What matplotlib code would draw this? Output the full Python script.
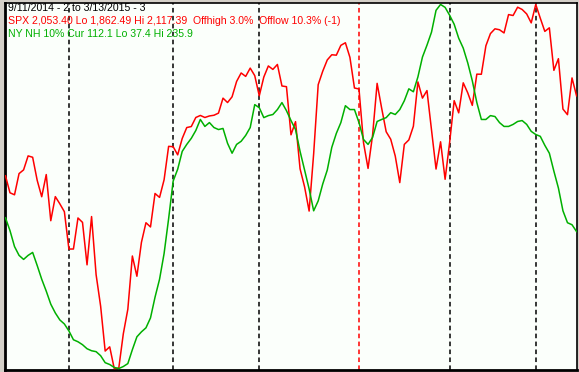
import pandas as pd
import matplotlib.pyplot as plt

# trading days 9/11/2014 .. 3/13/2015
feriados = ['2014-11-27', '2014-12-25', '2015-01-01', '2015-01-19', '2015-02-16']
fechas = pd.bdate_range('2014-09-11', '2015-03-13')
fechas = fechas[~fechas.isin(pd.to_datetime(feriados))]

# SPX closes
spx = [1997.45, 1985.54, 1984.13, 1998.98, 2001.57, 2011.36, 2010.40, 1994.29, 1982.77, 1998.30,
       1965.99, 1982.85, 1977.80, 1972.29,
       1946.16, 1946.17, 1967.90, 1964.82, 1935.10, 1968.89, 1928.21, 1906.13, 1874.74, 1877.70,
       1862.49, 1862.76, 1886.76, 1904.01, 1941.28, 1927.11, 1950.82, 1964.58, 1961.63, 1985.05,
       1982.30, 1994.65, 2018.05,
       2017.81, 2012.10, 2023.57, 2031.21, 2031.92, 2038.26, 2039.68, 2038.25, 2039.33, 2039.82,
       2041.32, 2051.80, 2048.72, 2052.75, 2063.50, 2069.41, 2067.03, 2072.83, 2067.56,
       2053.44, 2066.55, 2074.33, 2071.92, 2075.37, 2060.31, 2059.82, 2026.14, 2035.33, 2002.33,
       1989.63, 1972.74, 2012.89, 2061.23, 2070.65, 2078.54, 2082.17, 2081.88, 2088.77, 2090.57,
       2080.35, 2058.90,
       2058.20, 2020.58, 2002.61, 2025.90, 2062.14, 2044.81, 2028.26, 2023.03, 2011.27, 1992.67,
       2019.42, 2022.55, 2032.12, 2063.15, 2051.82, 2057.09, 2029.55, 2002.16, 2021.25, 1994.99,
       2020.85, 2050.03, 2041.51, 2062.52, 2055.47, 2046.74, 2068.59, 2068.53, 2088.48, 2096.99,
       2100.34, 2099.68, 2097.45, 2110.30, 2109.66, 2115.48, 2113.86, 2110.74, 2104.50,
       2117.39, 2107.78, 2098.53, 2101.04, 2071.26, 2079.43, 2044.16, 2040.24, 2065.95, 2053.40]

# NY new highs, 10% average
nyhn = [119.6, 112.6, 103.9, 99.1, 96.9, 99.1, 100.7, 93.6, 86.1, 79.6,
        72.5, 67.7, 63.9, 61.7,
        57.9, 53.1, 52.0, 50.4, 48.2, 47.1, 46.6, 44.4, 40.6, 39.6,
        38.0, 37.4, 38.5, 40.1, 47.7, 54.7, 57.4, 59.6, 65.0, 76.3,
        86.1, 100.1, 119.1,
        139.6, 146.1, 155.8, 159.6, 162.9, 167.2, 173.2, 169.4, 171.5, 168.8,
        167.7, 168.3, 160.2, 154.8, 159.6, 161.3, 164.5, 168.8, 181.3,
        179.6, 174.2, 175.3, 175.9, 178.6, 182.4, 178.0, 172.6, 167.7, 155.8,
        145.6, 135.3, 123.4, 128.8, 138.0, 145.6, 158.0, 165.6, 171.5, 180.7,
        178.6, 178.6,
        171.5, 162.3, 159.6, 163.4, 172.1, 173.2, 174.2, 176.9, 175.9, 178.6,
        183.4, 189.9, 188.3, 196.4, 207.2, 213.7, 220.8, 232.7, 235.9, 234.3,
        230.0, 225.1, 217.5, 212.1, 204.0, 194.3, 182.4, 173.2, 173.2, 175.3,
        174.8, 171.5, 169.4, 169.4, 170.5, 172.1, 172.6, 170.5, 166.7,
        165.0, 164.0, 159.1, 154.8, 145.0, 135.8, 123.4, 116.9, 115.8, 112.1]

titulo = "9/11/2014 - 2 to 3/13/2015 - 3"
linea_spx = "SPX 2,053.40 Lo 1,862.49 Hi 2,117.39  Offhigh 3.0%  Offlow 10.3% (-1)"
linea_nh = "NY NH 10% Cur 112.1 Lo 37.4 Hi 235.9"

ROJO = '#ff0000'
VERDE = '#00b000'

x = list(range(len(fechas)))
meses = pd.Series(fechas.month)
inicio_mes = [i for i in x if i > 0 and meses[i] != meses[i - 1]]

fig = plt.figure(figsize=(5.79, 3.72), dpi=100, facecolor='#d4d0c8')
ax = fig.add_axes([5 / 579, 2 / 372, 572 / 579, 367 / 372])
ax.set_facecolor('#fbfffb')
ax2 = ax.twinx()

for i in inicio_mes:
    color = ROJO if fechas[i].year != fechas[i - 1].year else 'black'
    ax.axvline(i, color=color, lw=1.1, linestyle=(0, (3, 2.2)), zorder=1)

ax.plot(x, spx, color=ROJO, lw=1.1, zorder=3)
ax2.plot(x, nyhn, color=VERDE, lw=1.1, zorder=2)

pad = 0.004
ax.set_ylim(min(spx) - (max(spx) - min(spx)) * pad, max(spx) + (max(spx) - min(spx)) * pad)
ax2.set_ylim(min(nyhn) - (max(nyhn) - min(nyhn)) * pad, max(nyhn) + (max(nyhn) - min(nyhn)) * pad)
ax.set_xlim(-0.1, len(x) - 0.9)

for a in (ax, ax2):
    a.set_xticks([])
    a.set_yticks([])
for s in ax.spines.values():
    s.set_color('black')
    s.set_linewidth(1.2)
ax.spines['left'].set_linewidth(2)
ax.spines['bottom'].set_linewidth(2)
for s in ax2.spines.values():
    s.set_visible(False)

fuente = dict(family='Liberation Sans', fontsize=7.6, va='center', ha='left')
fig.text(8 / 579, 1 - 8 / 372, titulo, color='black', **fuente)
fig.text(8 / 579, 1 - 21 / 372, linea_spx, color=ROJO, **fuente)
fig.text(8 / 579, 1 - 34 / 372, linea_nh, color=VERDE, **fuente)

fig.savefig('out.png', dpi=100, facecolor=fig.get_facecolor())
